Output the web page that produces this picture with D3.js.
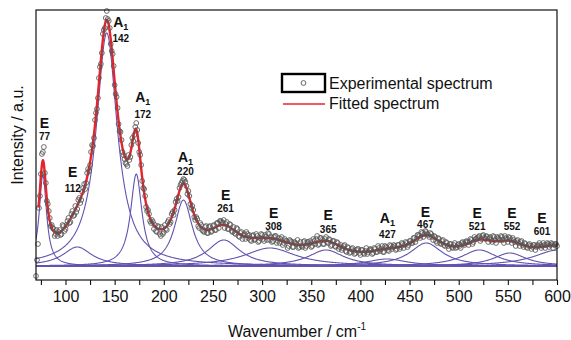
<!DOCTYPE html>
<html>
<head>
<meta charset="utf-8">
<script src="https://cdn.jsdelivr.net/npm/d3@7"></script>
<style>
  html, body { margin: 0; padding: 0; background: #fff; }
  svg { display: block; font-family: "Liberation Sans", Arial, Helvetica, sans-serif; }
</style>
</head>
<body>
<svg id="chart" width="571" height="340"></svg>
<script>
// Fitted Raman modes (Lorentzian components on a flat background)
const modeSymbols  = ["E", "E", "A", "A", "A", "E", "E", "E", "A", "E", "E", "E", "E"];
const modeSubs     = ["",  "",  "1", "1", "1", "",  "",  "",  "1", "",  "",  "",  ""];
const modeCenters  = [77, 112, 142, 172, 220, 261, 308, 365, 427, 467, 521, 552, 601];
const modeHeights  = [91, 19, 233, 92, 66, 26, 18, 16, 7, 23, 16, 13, 16];
const modeHalfWidths = [4.5, 18, 13, 7, 11, 20, 32, 22, 25, 20, 22, 20, 30];
const backgroundLevel = 14;

// Measured spectrum at even wavenumbers, 70 ... 600 cm-1
const measuredEven = [
  4, 36, 84, 126, 133, 97, 76, 62, 55, 51, 46, 44, 50, 46, 54, 51, 59, 57, 66, 64,
  74, 71, 82, 80, 92, 91, 107, 109, 128, 134, 160, 171, 202, 216, 246, 252, 269, 259, 236, 226,
  195, 183, 156, 148, 128, 121, 116, 125, 123, 142, 145, 157, 137, 125, 99, 91, 73, 70, 59, 60,
  51, 49, 54, 46, 53, 48, 51, 58, 56, 66, 65, 78, 79, 92, 97, 101, 98, 86, 84, 72,
  70, 60, 61, 52, 55, 49, 53, 47, 53, 48, 54, 50, 57, 52, 59, 57, 52, 58, 51, 55,
  48, 47, 52, 44, 47, 41, 46, 48, 42, 40, 44, 40, 46, 38, 42, 45, 39, 43, 47, 40,
  38, 43, 44, 39, 37, 43, 37, 39, 32, 40, 38, 33, 37, 40, 33, 34, 38, 32, 38, 36,
  33, 41, 36, 44, 36, 42, 36, 41, 38, 41, 34, 39, 34, 38, 31, 35, 32, 35, 28, 32,
  28, 32, 26, 30, 31, 25, 30, 26, 32, 28, 31, 26, 32, 28, 34, 29, 34, 28, 33, 30,
  35, 31, 35, 30, 35, 31, 37, 32, 38, 33, 39, 37, 42, 38, 45, 44, 48, 43, 49, 46,
  43, 46, 40, 43, 37, 41, 36, 40, 34, 37, 31, 36, 32, 37, 33, 36, 32, 38, 35, 39,
  35, 41, 36, 43, 41, 43, 39, 44, 42, 44, 38, 43, 38, 43, 37, 42, 40, 43, 37, 42,
  38, 42, 37, 40, 34, 40, 34, 39, 33, 36, 32, 36, 31, 35, 30, 35, 37, 32, 37, 32,
  37, 33, 37, 32, 36, 34
];
// Measured spectrum at odd wavenumbers, 71 ... 599 cm-1
const measuredOdd = [
  20, 72, 106, 128, 107, 79, 69, 54, 52, 44, 50, 48, 45, 55, 49, 55, 62, 58, 69, 65,
  68, 80, 77, 88, 96, 97, 111, 115, 135, 142, 167, 182, 213, 227, 250, 262, 261, 252, 229, 214,
  186, 172, 149, 140, 125, 117, 114, 120, 135, 139, 153, 150, 128, 115, 92, 84, 69, 66, 57, 58,
  55, 48, 53, 44, 46, 55, 50, 60, 58, 68, 70, 81, 83, 95, 99, 100, 94, 89, 76, 74,
  63, 63, 54, 57, 50, 48, 54, 47, 54, 49, 55, 50, 57, 59, 58, 60, 56, 51, 56, 49,
  53, 46, 51, 43, 48, 45, 41, 46, 45, 39, 45, 41, 44, 39, 46, 41, 45, 40, 46, 43,
  39, 44, 37, 42, 41, 35, 41, 39, 34, 39, 33, 38, 36, 32, 38, 33, 39, 34, 38, 39,
  34, 39, 41, 35, 42, 40, 36, 43, 37, 40, 35, 39, 33, 37, 33, 30, 34, 29, 33, 27,
  31, 29, 27, 31, 27, 30, 27, 29, 26, 30, 30, 27, 31, 28, 32, 31, 28, 34, 32, 29,
  34, 33, 34, 31, 35, 33, 36, 35, 37, 35, 39, 37, 42, 41, 45, 42, 47, 46, 48, 45,
  47, 43, 44, 39, 42, 37, 39, 35, 38, 34, 36, 33, 35, 32, 35, 34, 37, 36, 38, 38,
  38, 40, 38, 41, 42, 44, 41, 45, 41, 43, 42, 40, 44, 40, 43, 41, 44, 40, 44, 41,
  43, 40, 42, 38, 39, 37, 38, 35, 37, 33, 35, 34, 33, 35, 33, 34, 35, 34, 35, 35,
  36, 35, 36, 35, 36
];

// Axis ticks
const majorTicks = [100, 150, 200, 250, 300, 350, 400, 450, 500, 550, 600];
const minorTicks = [75, 125, 175, 225, 275, 325, 375, 425, 475, 525, 575];

// Label placement: horizontal shift from the mode centre, symbol and number baselines
const labelDx   = [1.6, -4.5, 14, 6.5, 2, 1.8, 3.6, 2.2, 0.5, -0.8, -2.2, 2.2, -16];
const symbolY   = [128, 177, 27, 102, 162, 200, 218, 220, 223, 217, 218, 218, 223];
const numberY   = [140, 192, 42, 118, 175, 212, 230, 233, 238, 228, 230, 230, 235];

const svg = d3.select("#chart");
const margin = { left: 36, right: 14, top: 10, bottom: 60 };
const W = 571, H = 340;

const x = d3.scaleLinear().domain([70, 600]).range([margin.left, W - margin.right]);
const y = d3.scaleLinear().domain([0, 270]).range([H - margin.bottom, margin.top]);

const lorentz = (xv, i) => modeHeights[i] / (1 + Math.pow((xv - modeCenters[i]) / modeHalfWidths[i], 2));
const grid = d3.range(70, 600.001, 0.5);

svg.append("defs").append("clipPath").attr("id", "plotClip")
  .append("rect").attr("x", x(70)).attr("y", y(270)).attr("width", x(600) - x(70)).attr("height", y(0) - y(270));

const plot = svg.append("g").attr("clip-path", "url(#plotClip)");
const line = d3.line().x(d => x(d[0])).y(d => y(d[1]));

// Individual components
modeCenters.forEach((c, i) => {
  const pts = grid.map(g => [g, backgroundLevel + lorentz(g, i)]);
  plot.append("path").attr("d", line(pts))
    .attr("fill", "none").attr("stroke", "#6253b0").attr("stroke-width", 1.1);
});

// Measured points
const measured = [
  ...measuredEven.map((v, k) => [70 + 2 * k, v]),
  ...measuredOdd.map((v, k) => [71 + 2 * k, v])
].sort((a, b) => a[0] - b[0]);
svg.append("g").selectAll("circle").data(measured).join("circle")
  .attr("cx", d => x(d[0])).attr("cy", d => y(d[1])).attr("r", 2.4)
  .attr("fill", "none").attr("stroke", "#555").attr("stroke-width", 0.85);

// Sum of components
const fitPts = grid.map(g => [g, backgroundLevel + d3.sum(modeCenters, (c, i) => lorentz(g, i))]);
plot.append("path").attr("d", line(fitPts.filter(d => d[0] >= 72.5)))
  .attr("fill", "none").attr("stroke", "#e8232a").attr("stroke-width", 2.4)
  .attr("stroke-linejoin", "round");

// Frame
svg.append("rect").attr("x", x(70)).attr("y", y(270)).attr("width", x(600) - x(70)).attr("height", y(0) - y(270))
  .attr("fill", "none").attr("stroke", "#111").attr("stroke-width", 1.2);

// Bottom axis
const axisG = svg.append("g").attr("transform", `translate(0,${y(0)})`);
axisG.call(d3.axisBottom(x).tickValues(majorTicks).tickSize(5).tickPadding(6).tickFormat(d3.format("d")))
  .call(g => g.select(".domain").remove())
  .call(g => g.selectAll("line").attr("stroke", "#111").attr("stroke-width", 1.1))
  .call(g => g.selectAll("text").attr("font-size", 16).attr("fill", "#111").attr("font-family", null));
axisG.append("g").call(d3.axisBottom(x).tickValues(minorTicks).tickSize(5).tickFormat(""))
  .call(g => g.select(".domain").remove())
  .call(g => g.selectAll("line").attr("stroke", "#111").attr("stroke-width", 1.1));

// Axis titles
const xt = svg.append("text").attr("x", 297).attr("y", 337).attr("text-anchor", "middle")
  .attr("font-size", 16).attr("fill", "#111");
xt.append("tspan").text("Wavenumber / cm");
xt.append("tspan").attr("font-size", 10).attr("dy", -7).text("-1");

svg.append("text").attr("transform", "translate(23,135) rotate(-90)").attr("text-anchor", "middle")
  .attr("font-size", 16).attr("fill", "#111").text("Intensity / a.u.");

// Mode labels
const labels = svg.append("g").attr("fill", "#111").attr("font-weight", "bold");
modeCenters.forEach((c, i) => {
  const lx = x(c) + labelDx[i];
  const t = labels.append("text").attr("x", lx).attr("y", symbolY[i]).attr("text-anchor", "middle")
    .attr("font-size", 14);
  t.append("tspan").text(modeSymbols[i]);
  if (modeSubs[i]) t.append("tspan").attr("font-size", 9).attr("dy", 3).text(modeSubs[i]);
  labels.append("text").attr("x", lx).attr("y", numberY[i]).attr("text-anchor", "middle")
    .attr("font-size", 10).text(String(c));
});

// Legend
const lg = svg.append("g");
lg.append("rect").attr("x", 282).attr("y", 74).attr("width", 43).attr("height", 18)
  .attr("fill", "none").attr("stroke", "#000").attr("stroke-width", 2.4);
lg.append("circle").attr("cx", 303.5).attr("cy", 83).attr("r", 2.4)
  .attr("fill", "none").attr("stroke", "#555").attr("stroke-width", 0.9);
lg.append("line").attr("x1", 283).attr("x2", 325).attr("y1", 104).attr("y2", 104)
  .attr("stroke", "#e8232a").attr("stroke-width", 1.6);
lg.append("text").attr("x", 329).attr("y", 89).attr("font-size", 16).attr("fill", "#111").text("Experimental spectrum");
lg.append("text").attr("x", 329).attr("y", 109).attr("font-size", 16).attr("fill", "#111").text("Fitted spectrum");
</script>
</body>
</html>
